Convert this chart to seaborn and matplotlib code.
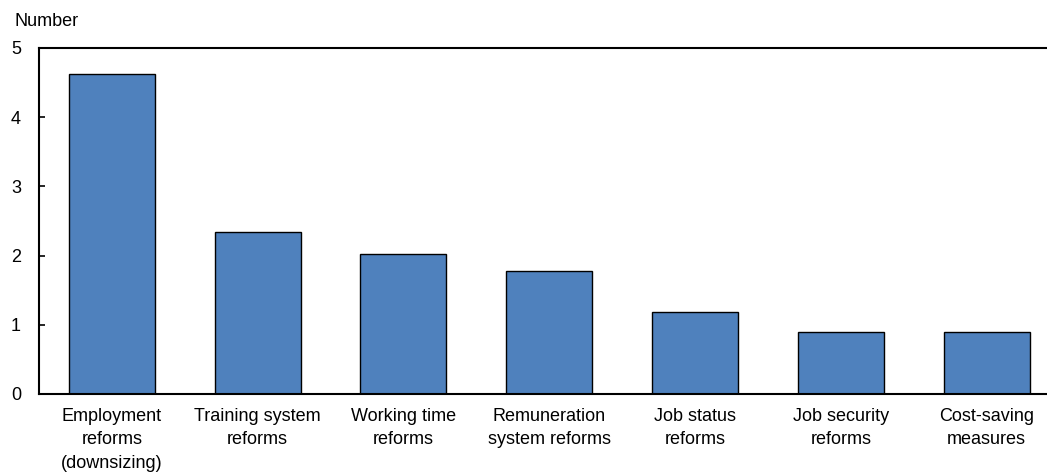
import matplotlib
matplotlib.use("Agg")
import matplotlib.pyplot as plt
import seaborn as sns
import pandas as pd

categories = [
    "Employment\nreforms\n(downsizing)",
    "Training system\nreforms",
    "Working time\nreforms",
    "Remuneration\nsystem reforms",
    "Job status\nreforms",
    "Job security\nreforms",
    "Cost-saving\nmeasures",
]
values = [4.62, 2.34, 2.03, 1.78, 1.18, 0.90, 0.90]
y_ticks = [0, 1, 2, 3, 4, 5]

sns.set_theme(style="white")
plt.rcParams["font.family"] = ["Liberation Sans", "DejaVu Sans"]
plt.rcParams["text.color"] = "black"
fsize = 13

df = pd.DataFrame({"category": categories, "value": values})

fig = plt.figure(figsize=(10.47, 4.74), dpi=100)
ax = fig.add_axes([39 / 1047, 1 - 394 / 474, 1 - 39 / 1047, (394 - 48) / 474])

sns.barplot(data=df, x="category", y="value", color="#4F81BD", width=0.59,
            edgecolor="black", linewidth=1.0, saturation=1, ax=ax)

ax.set_ylim(0, 5)
ax.set_xlim(-0.5, 6.414)
ax.set_yticks(y_ticks)
ax.set_xlabel("")
ax.set_ylabel("")

for side in ["left", "bottom", "top"]:
    ax.spines[side].set_visible(True)
    ax.spines[side].set_color("black")
    ax.spines[side].set_linewidth(1.5)
ax.spines["right"].set_visible(False)

ax.tick_params(axis="y", direction="in", length=4.5, width=1.2, pad=13,
               labelsize=fsize, colors="black", left=True)
ax.tick_params(axis="x", length=0, pad=10, labelsize=fsize, colors="black")
for lbl in ax.get_xticklabels():
    lbl.set_linespacing(1.5)

fig.text(15 / 1047, 1 - 22 / 474, "Number", fontsize=fsize, va="center", ha="left",
         color="black")

fig.savefig("out.png", dpi=100)
